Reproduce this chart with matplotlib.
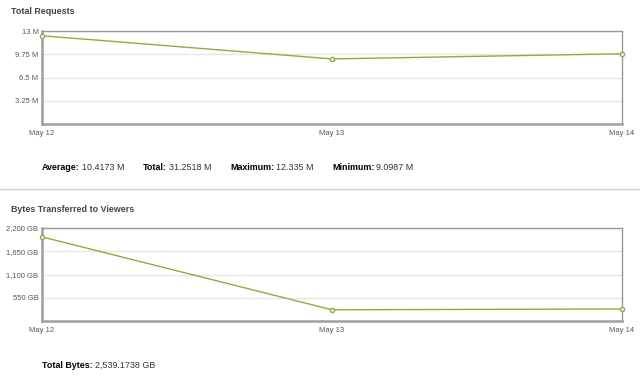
import matplotlib
matplotlib.use("Agg")
import matplotlib.pyplot as plt
from matplotlib.ticker import FixedLocator

plt.rcParams['font.family'] = ['Liberation Sans', 'DejaVu Sans']

days = ["May 12", "May 13", "May 14"]
requests_m = [12.335, 9.0987, 9.8181]
request_ticks = [3.25, 6.5, 9.75, 13]
request_labels = ["3.25 M", "6.5 M", "9.75 M", "13 M"]
request_stats = [("Average:", "10.4173 M"), ("Total:", "31.2518 M"),
                 ("Maximum:", "12.335 M"), ("Minimum:", "9.0987 M")]

bytes_gb = [1990, 265, 284.17]
bytes_ticks = [550, 1100, 1650, 2200]
bytes_labels = ["550 GB", "1,100 GB", "1,650 GB", "2,200 GB"]
bytes_stats = [("Total Bytes:", "2,539.1738 GB")]

W, H = 640, 378
fig = plt.figure(figsize=(6.4, 3.78), dpi=100)

line_col = "#8aae45"
grid_col = "#e6e6e6"
frame_col = "#a0a0a0"
text_col = "#333333"
fs = 6.4
tick_fs = 5.5


def make_axes(top_px, bottom_px, title, title_y, ys, ticks, labels):
    ax = fig.add_axes([42 / W, 1 - bottom_px / H, 580 / W, (bottom_px - top_px) / H])
    x = list(range(len(days)))
    ax.plot(x, ys, color=line_col, lw=1.0, marker="o", ms=3,
            mfc="white", mec=line_col, mew=1.0, zorder=3, clip_on=False)
    ax.set_xlim(0, len(days) - 1)
    ax.set_ylim(0, ticks[-1])
    ax.yaxis.set_major_locator(FixedLocator(ticks))
    ax.set_yticklabels(labels)
    ax.set_xticks(x)
    ax.set_xticklabels(days)
    ax.tick_params(length=0, labelsize=tick_fs, colors="#555555", pad=2.5)
    ax.tick_params(axis="x", pad=4)
    ax.grid(axis="y", color=grid_col, lw=1.0)
    ax.set_axisbelow(True)
    for side in ["top", "right"]:
        ax.spines[side].set_color("#9a9a9a")
        ax.spines[side].set_linewidth(1.0)
    for side in ["left", "bottom"]:
        ax.spines[side].set_color(frame_col)
        ax.spines[side].set_linewidth(1.8)
    fig.text(11 / W, 1 - title_y / H, title, fontsize=fs, fontweight="bold",
             color="#444444", va="center")
    return ax


def stats_row(items, x_positions, y_px):
    renderer = fig.canvas.get_renderer()
    for (label, value), xp in zip(items, x_positions):
        t = fig.text(xp / W, 1 - y_px / H, label, fontsize=fs, fontweight="bold",
                     color="black", va="center")
        bb = t.get_window_extent(renderer)
        fig.text(bb.x1 / W + 2 / W, 1 - y_px / H, value, fontsize=fs,
                 color=text_col, va="center")


make_axes(31, 124, "Total Requests", 12, requests_m, request_ticks, request_labels)
stats_row(request_stats, [42, 143, 230, 332], 168)

fig.add_artist(plt.Line2D([0, 1], [1 - 189 / H] * 2, color="#cccccc", lw=1.0))

make_axes(228, 321, "Bytes Transferred to Viewers", 210, bytes_gb, bytes_ticks, bytes_labels)
stats_row(bytes_stats, [42], 365)

fig.savefig("out.png", dpi=100)
